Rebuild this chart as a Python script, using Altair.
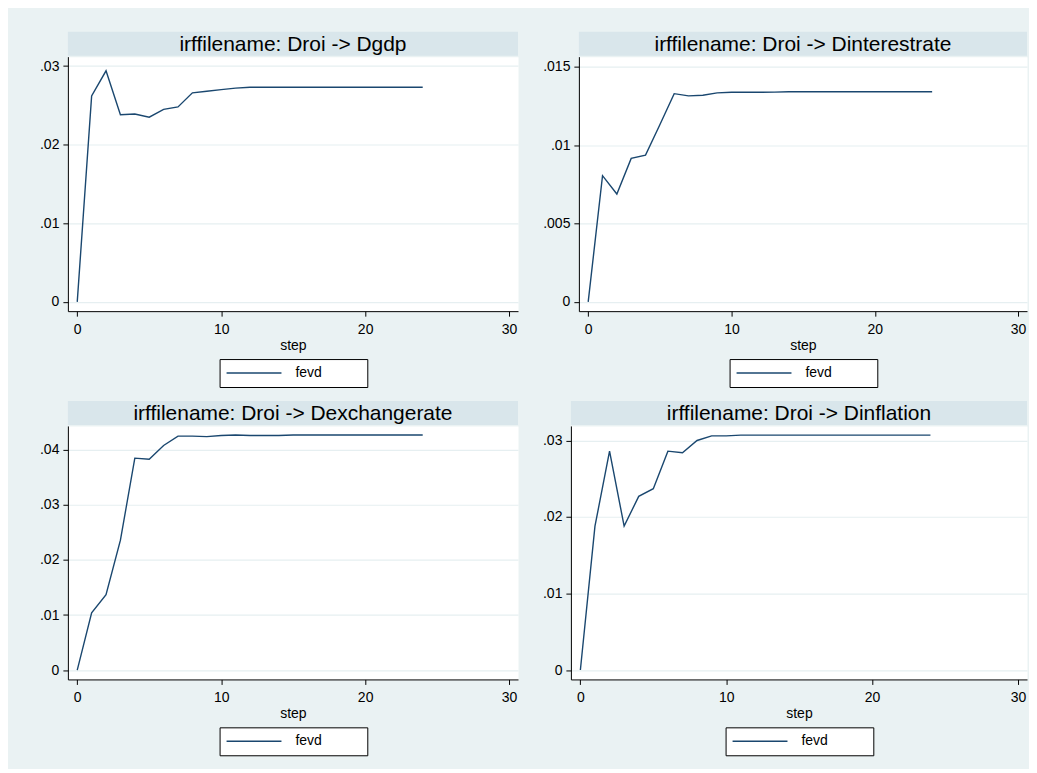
import altair as alt
import pandas as pd

# ---------------- data ----------------
steps = [0, 1, 2, 3, 4, 5, 6, 7, 8, 9, 10, 11, 12, 13, 14, 15, 16, 17, 18, 19, 20, 21, 22, 23, 24]

fevd_gdp = [0.0, 0.0262, 0.0294, 0.0238, 0.0239, 0.0235, 0.0245, 0.0248, 0.0266, 0.0268,
            0.0270, 0.0272, 0.0273, 0.0273, 0.0273, 0.0273, 0.0273, 0.0273, 0.0273, 0.0273,
            0.0273, 0.0273, 0.0273, 0.0273, 0.0273]
fevd_interest = [0.0, 0.00805, 0.00688, 0.00915, 0.00936, 0.0113, 0.01328, 0.01314, 0.01318, 0.01333,
                 0.01337, 0.01337, 0.01337, 0.01338, 0.0134, 0.0134, 0.0134, 0.0134, 0.0134, 0.0134,
                 0.0134, 0.0134, 0.0134, 0.0134, 0.0134]
fevd_exchange = [0.0, 0.0104, 0.0137, 0.0236, 0.0385, 0.0383, 0.0408, 0.0425, 0.0425, 0.0424,
                 0.0426, 0.0427, 0.0426, 0.0426, 0.0426, 0.0427, 0.0427, 0.0427, 0.0427, 0.0427,
                 0.0427, 0.0427, 0.0427, 0.0427, 0.0427]
fevd_inflation = [0.0, 0.0188, 0.0286, 0.0188, 0.0227, 0.0237, 0.0286, 0.0284, 0.0300, 0.0306,
                  0.0306, 0.0307, 0.0307, 0.0307, 0.0307, 0.0307, 0.0307, 0.0307, 0.0307, 0.0307,
                  0.0307, 0.0307, 0.0307, 0.0307, 0.0307]

titles = ["irffilename: Droi -> Dgdp", "irffilename: Droi -> Dinterestrate",
          "irffilename: Droi -> Dexchangerate", "irffilename: Droi -> Dinflation"]
series_name = "fevd"
x_title = "step"
x_ticks = [0, 10, 20, 30]
y_ticks = [[0, 0.01, 0.02, 0.03], [0, 0.005, 0.01, 0.015],
           [0, 0.01, 0.02, 0.03, 0.04], [0, 0.01, 0.02, 0.03]]

# ---------------- style ----------------
FONT = "Liberation Sans"
NAVY = "#1a476f"
BAND = "#d9e6eb"
BG = "#eaf2f3"
GRID = "#e6eff1"
X_DOMAIN = [-0.65, 30.62]
# non-breaking spaces followed by a zero-width space, so the legend box keeps Stata's wide shape
PAD = "\u00a0" * 10 + "\u200b"


def panel(values, title, yticks, ydomain, width, height, legend_y):
    df = pd.DataFrame({"step": steps, "fevd": values, "series": series_name})
    head = pd.DataFrame({"title": [title]})

    band = alt.Chart(head).mark_rect(color=BAND).encode(
        x=alt.value(0), x2=alt.value(width), y=alt.value(-25), y2=alt.value(-1)
    )
    text = alt.Chart(head).mark_text(
        fontSize=21, font=FONT, color="black", baseline="middle", align="center"
    ).encode(x=alt.value(width / 2), y=alt.value(-12), text="title:N")

    line = alt.Chart(df).mark_line(strokeWidth=1.4).encode(
        x=alt.X(
            "step:Q", title=x_title,
            scale=alt.Scale(domain=X_DOMAIN, nice=False, zero=False),
            axis=alt.Axis(values=x_ticks, grid=False, labelPadding=6, titlePadding=2),
        ),
        y=alt.Y(
            "fevd:Q", title=None,
            scale=alt.Scale(domain=ydomain, nice=False, zero=False),
            axis=alt.Axis(
                values=yticks, grid=True, gridColor=GRID, gridWidth=1.2, labelPadding=4,
                labelExpr="replace(format(datum.value, '.3~f'), '0.', '.')",
            ),
        ),
        color=alt.Color(
            "series:N",
            scale=alt.Scale(range=[NAVY]),
            legend=alt.Legend(
                orient="none", legendX=(width - 147) / 2, legendY=legend_y, title=None,
                symbolType="stroke", symbolSize=3025, symbolStrokeWidth=1.5,
                clipHeight=16, padding=6, labelOffset=13,
                strokeColor="black", fillColor="white", cornerRadius=0,
                labelFont=FONT, labelFontSize=14, labelColor="black",
                labelExpr="datum.label + '" + PAD + "'",
            ),
        ),
    )
    return alt.layer(band, text, line).properties(width=width, height=height)


p1 = panel(fevd_gdp, titles[0], y_ticks[0], [-0.00118, 0.0312], 451, 255, 303)
p2 = panel(fevd_interest, titles[1], y_ticks[1], [-0.00059, 0.01564], 449, 255, 303)
p3 = panel(fevd_exchange, titles[2], y_ticks[2], [-0.0017, 0.04435], 451, 254, 302)
p4 = panel(fevd_inflation, titles[3], y_ticks[3], [-0.00123, 0.0319], 457, 254, 302)

row1 = alt.hconcat(p1, p2, spacing=23).resolve_scale(color="independent").resolve_legend(color="independent")
row2 = alt.hconcat(p3, p4, spacing=23).resolve_scale(color="independent").resolve_legend(color="independent")

chart = (
    alt.vconcat(row1, row2, spacing=12)
    .resolve_scale(color="independent")
    .resolve_legend(color="independent")
    .properties(padding={"left": 31, "top": 22, "right": 1, "bottom": 12})
    .configure(background=BG)
    .configure_view(fill="white", stroke="transparent")
    .configure_axis(
        domainColor="black", domainWidth=1, tickColor="black", tickSize=5, tickWidth=1,
        labelFont=FONT, labelFontSize=14, labelColor="black",
        titleFont=FONT, titleFontSize=14, titleFontWeight="normal", titleColor="black",
    )
)

chart.save("out.html", embed_options={"renderer": "svg", "actions": False})
